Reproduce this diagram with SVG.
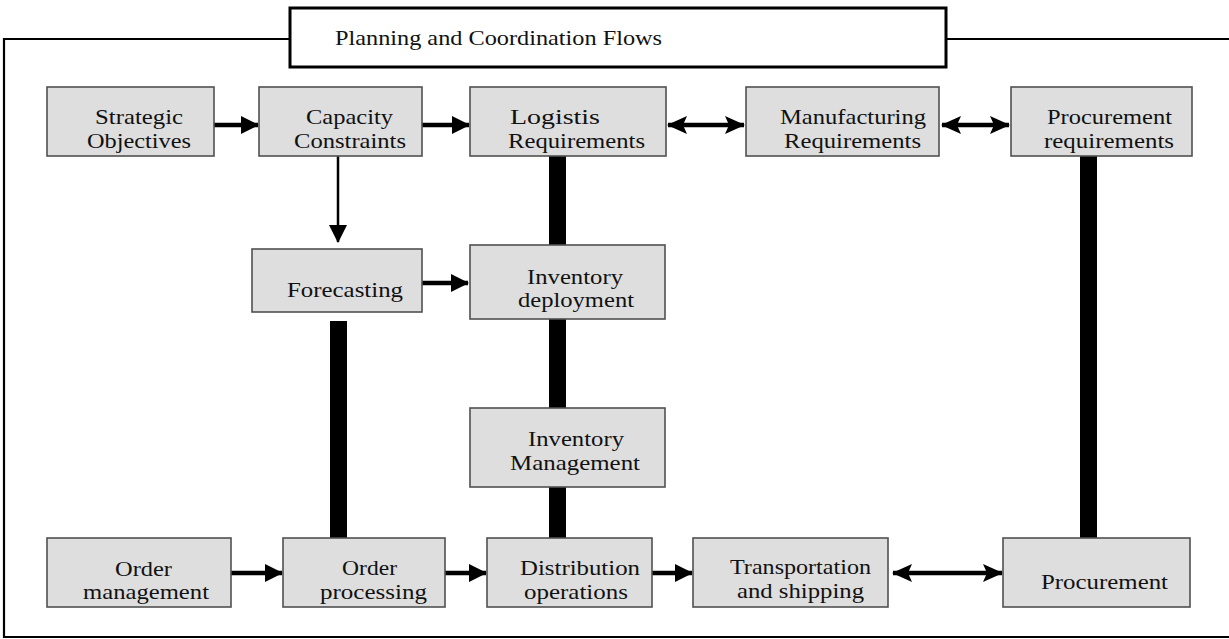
<svg xmlns="http://www.w3.org/2000/svg" width="1229" height="639" viewBox="0 0 1229 639">
  <style>
    .node rect { fill: #dedede; stroke: #505050; stroke-width: 1.6; }
    text { font-family: "Liberation Serif", "DejaVu Serif", "Times New Roman", serif; font-size: 21px; fill: #111; }
    .frame { fill: none; stroke: #000; stroke-width: 2.2; }
    .title rect { fill: #fff; stroke: #000; stroke-width: 3; }
    .flow { stroke: #000; stroke-width: 4.5; fill: none; }
    .thin { stroke: #000; stroke-width: 2.5; fill: none; }
    .bar { fill: #000; }
  </style>
  <defs>
    <marker id="head" markerUnits="userSpaceOnUse" markerWidth="18" markerHeight="18" refX="17" refY="9" orient="auto">
      <path d="M0,0 L18,9 L0,18 Z" fill="#000"/>
    </marker>
    <marker id="dhead" markerUnits="userSpaceOnUse" markerWidth="20" markerHeight="20" refX="19" refY="10" orient="auto-start-reverse">
      <path d="M0,1 L20,10 L0,19 L4,10 Z" fill="#000"/>
    </marker>
  </defs>

  <!-- outer frame, open on the right -->
  <path class="frame" d="M1229,39 H946 M290,39 H4 V637 H1229"/>

  <g id="title" class="title">
    <rect x="290" y="8" width="656" height="59"/>
    <text x="335" y="45" textLength="327" lengthAdjust="spacingAndGlyphs">Planning and Coordination Flows</text>
  </g>

  <!-- connectors -->
  <g id="connectors">
    <!-- thick coordination bars -->
    <rect class="bar" x="549" y="156" width="17" height="89"/>
    <rect class="bar" x="549" y="319" width="17" height="89"/>
    <rect class="bar" x="549" y="487" width="17" height="51"/>
    <rect class="bar" x="330" y="321" width="17" height="217"/>
    <rect class="bar" x="1080" y="156" width="17" height="382"/>

    <!-- top row -->
    <line class="flow" x1="214" y1="125" x2="258" y2="125" marker-end="url(#head)"/>
    <line class="flow" x1="422" y1="125" x2="469" y2="125" marker-end="url(#head)"/>
    <line class="flow" x1="668" y1="125" x2="744" y2="125" marker-start="url(#dhead)" marker-end="url(#dhead)"/>
    <line class="flow" x1="942" y1="125" x2="1009" y2="125" marker-start="url(#dhead)" marker-end="url(#dhead)"/>

    <!-- capacity to forecasting -->
    <line class="thin" x1="338" y1="156" x2="338" y2="242" marker-end="url(#head)"/>
    <!-- forecasting to inventory deployment -->
    <line class="flow" x1="422" y1="283" x2="468" y2="283" marker-end="url(#head)"/>

    <!-- bottom row -->
    <line class="flow" x1="231" y1="573" x2="282" y2="573" marker-end="url(#head)"/>
    <line class="flow" x1="445" y1="573" x2="486" y2="573" marker-end="url(#head)"/>
    <line class="flow" x1="652" y1="573" x2="692" y2="573" marker-end="url(#head)"/>
    <line class="flow" x1="893" y1="573" x2="1002" y2="573" marker-start="url(#dhead)" marker-end="url(#dhead)"/>
  </g>

  <!-- top row nodes -->
  <g id="strategic-objectives" class="node">
    <rect x="47" y="87" width="167" height="69"/>
    <text x="95" y="124" textLength="88" lengthAdjust="spacingAndGlyphs">Strategic</text>
    <text x="87" y="147.5" textLength="104" lengthAdjust="spacingAndGlyphs">Objectives</text>
  </g>
  <g id="capacity-constraints" class="node">
    <rect x="259" y="87" width="163" height="69"/>
    <text x="306" y="124" textLength="87" lengthAdjust="spacingAndGlyphs">Capacity</text>
    <text x="294" y="147.5" textLength="112" lengthAdjust="spacingAndGlyphs">Constraints</text>
  </g>
  <g id="logistics-requirements" class="node">
    <rect x="470" y="87" width="196" height="69"/>
    <text x="510" y="124" textLength="90" lengthAdjust="spacingAndGlyphs">Logistis</text>
    <text x="508" y="147.5" textLength="137" lengthAdjust="spacingAndGlyphs">Requirements</text>
  </g>
  <g id="manufacturing-requirements" class="node">
    <rect x="746" y="87" width="193" height="69"/>
    <text x="780" y="124" textLength="146" lengthAdjust="spacingAndGlyphs">Manufacturing</text>
    <text x="784" y="147.5" textLength="137" lengthAdjust="spacingAndGlyphs">Requirements</text>
  </g>
  <g id="procurement-requirements" class="node">
    <rect x="1011" y="87" width="181" height="69"/>
    <text x="1047" y="124" textLength="125" lengthAdjust="spacingAndGlyphs">Procurement</text>
    <text x="1044" y="147.5" textLength="130" lengthAdjust="spacingAndGlyphs">requirements</text>
  </g>

  <!-- middle nodes -->
  <g id="forecasting" class="node">
    <rect x="252" y="249" width="170" height="63"/>
    <text x="287" y="297" textLength="116" lengthAdjust="spacingAndGlyphs">Forecasting</text>
  </g>
  <g id="inventory-deployment" class="node">
    <rect x="470" y="245" width="195" height="74"/>
    <text x="527" y="283.5" textLength="96" lengthAdjust="spacingAndGlyphs">Inventory</text>
    <text x="518" y="307" textLength="116" lengthAdjust="spacingAndGlyphs">deployment</text>
  </g>
  <g id="inventory-management" class="node">
    <rect x="470" y="408" width="195" height="79"/>
    <text x="528" y="446" textLength="96" lengthAdjust="spacingAndGlyphs">Inventory</text>
    <text x="510" y="469.5" textLength="130" lengthAdjust="spacingAndGlyphs">Management</text>
  </g>

  <!-- bottom row nodes -->
  <g id="order-management" class="node">
    <rect x="47" y="538" width="184" height="69"/>
    <text x="115" y="575.5" textLength="57" lengthAdjust="spacingAndGlyphs">Order</text>
    <text x="83" y="599" textLength="126" lengthAdjust="spacingAndGlyphs">management</text>
  </g>
  <g id="order-processing" class="node">
    <rect x="283" y="538" width="162" height="69"/>
    <text x="342" y="575" textLength="55" lengthAdjust="spacingAndGlyphs">Order</text>
    <text x="320" y="598.5" textLength="107" lengthAdjust="spacingAndGlyphs">processing</text>
  </g>
  <g id="distribution-operations" class="node">
    <rect x="487" y="538" width="165" height="69"/>
    <text x="520" y="575" textLength="120" lengthAdjust="spacingAndGlyphs">Distribution</text>
    <text x="524" y="598.5" textLength="104" lengthAdjust="spacingAndGlyphs">operations</text>
  </g>
  <g id="transportation-shipping" class="node">
    <rect x="693" y="538" width="195" height="69"/>
    <text x="730" y="574" textLength="141" lengthAdjust="spacingAndGlyphs">Transportation</text>
    <text x="737" y="597.5" textLength="127" lengthAdjust="spacingAndGlyphs">and shipping</text>
  </g>
  <g id="procurement" class="node">
    <rect x="1003" y="538" width="187" height="69"/>
    <text x="1041" y="589" textLength="127" lengthAdjust="spacingAndGlyphs">Procurement</text>
  </g>
</svg>
